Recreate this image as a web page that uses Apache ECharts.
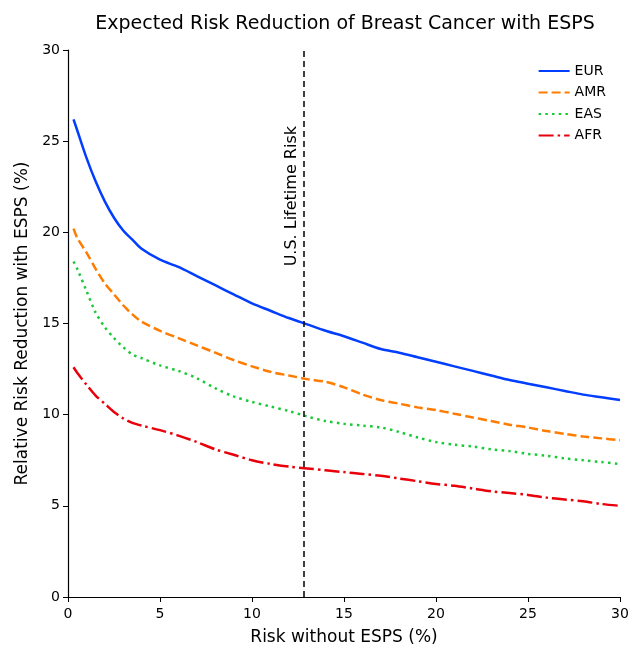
<!DOCTYPE html>
<html><head><meta charset="utf-8">
<script src="https://cdn.jsdelivr.net/npm/echarts@6/dist/echarts.min.js"></script>
<style>html,body{margin:0;padding:0;background:#fff}#c{width:630px;height:647px}</style>
</head><body><div id="c"></div>
<script>
const xs = [0.3,0.5,1,1.5,2,2.5,3,3.5,4,5,6,7,8,9,10,11,12,13,14,15,16,17,18,19,20,21,22,23,24,25,26,27,28,29,30];
const EUR = [26.2,25.6,24.1,22.8,21.7,20.8,20.1,19.6,19.1,18.5,18.1,17.6,17.1,16.6,16.1,15.7,15.3,14.95,14.6,14.3,13.95,13.6,13.4,13.15,12.9,12.65,12.4,12.15,11.9,11.7,11.5,11.3,11.1,10.95,10.8];
const AMR = [20.2,19.7,18.9,18.0,17.2,16.6,16.0,15.5,15.1,14.6,14.2,13.8,13.4,13.0,12.65,12.35,12.15,11.95,11.8,11.5,11.1,10.8,10.6,10.4,10.25,10.05,9.85,9.65,9.45,9.3,9.1,8.95,8.8,8.7,8.6];
const EAS = [18.4,18.0,16.8,15.6,14.8,14.2,13.7,13.3,13.1,12.7,12.4,12.0,11.45,11.0,10.7,10.45,10.2,9.9,9.65,9.5,9.4,9.3,9.05,8.75,8.5,8.35,8.25,8.1,8.0,7.85,7.75,7.6,7.5,7.4,7.3];
const AFR = [12.6,12.3,11.65,11.05,10.6,10.15,9.8,9.55,9.4,9.15,8.85,8.5,8.1,7.8,7.5,7.3,7.15,7.05,6.95,6.85,6.75,6.65,6.5,6.35,6.2,6.1,5.95,5.8,5.7,5.6,5.45,5.35,5.25,5.1,5.0];
const usLifetimeRisk = 12.8;
const seriesNames = ['EUR','AMR','EAS','AFR'];
const seriesData = [EUR, AMR, EAS, AFR];
const colors = ['#023eff','#ff7c00','#1ac938','#e8000b'];
const dashes = ['solid',[9,4],[2.5,4.2],[15,4,2.5,4]];
const font = 'DejaVu Sans';

const series = seriesNames.map((n,i)=>({
  name:n, type:'line', smooth:0.3, symbol:'none', showSymbol:false,
  data: xs.map((x,j)=>[x, seriesData[i][j]]),
  lineStyle:{color:colors[i], width:2.5, type:dashes[i], cap:'butt'},
  itemStyle:{color:colors[i]}, z:3
}));
series[0].markLine = {
  silent:true, symbol:['none','none'],
  lineStyle:{color:'#000', type:[6,4], width:1.5},
  label:{show:true, formatter:'U.S. Lifetime Risk', position:'insideEndTop', distance:[76,4],
    color:'#000', fontFamily:font, fontSize:16},
  data:[{xAxis:usLifetimeRisk}]
};

const chart = echarts.init(document.getElementById('c'), null, {renderer:'canvas'});
chart.setOption({
  animation:false,
  backgroundColor:'#fff',
  color:colors,
  title:{text:'Expected Risk Reduction of Breast Cancer with ESPS', left:340, top:10, textAlign:'center',
    textStyle:{fontFamily:font, fontSize:19, fontWeight:'normal', color:'#000'}},
  grid:{left:68, right:10, top:50, bottom:50, outerBoundsMode:'none', containLabel:false},
  legend:{orient:'vertical', right:19, top:59, itemWidth:31, itemHeight:12, itemGap:7.5,
    textStyle:{fontFamily:font, fontSize:14, color:'#000'},
    data:seriesNames.map(n=>({name:n, itemStyle:{opacity:0}}))},
  xAxis:{type:'value', min:0, max:30, interval:5,
    name:'Risk without ESPS (%)', nameLocation:'middle', nameGap:32,
    nameTextStyle:{fontFamily:font, fontSize:17, color:'#000'},
    axisLine:{lineStyle:{color:'#000', width:1.2}},
    axisTick:{show:true, length:5, lineStyle:{color:'#000'}},
    axisLabel:{fontFamily:font, fontSize:14, color:'#000', margin:10},
    splitLine:{show:false}},
  yAxis:{type:'value', min:0, max:30, interval:5,
    name:'Relative Risk Reduction with ESPS (%)', nameLocation:'middle', nameGap:37,
    nameTextStyle:{fontFamily:font, fontSize:17, color:'#000'},
    axisLine:{show:true, lineStyle:{color:'#000', width:1.2}},
    axisTick:{show:true, length:5, lineStyle:{color:'#000'}},
    axisLabel:{fontFamily:font, fontSize:14, color:'#000', margin:8},
    splitLine:{show:false}},
  series:series
});
</script></body></html>
